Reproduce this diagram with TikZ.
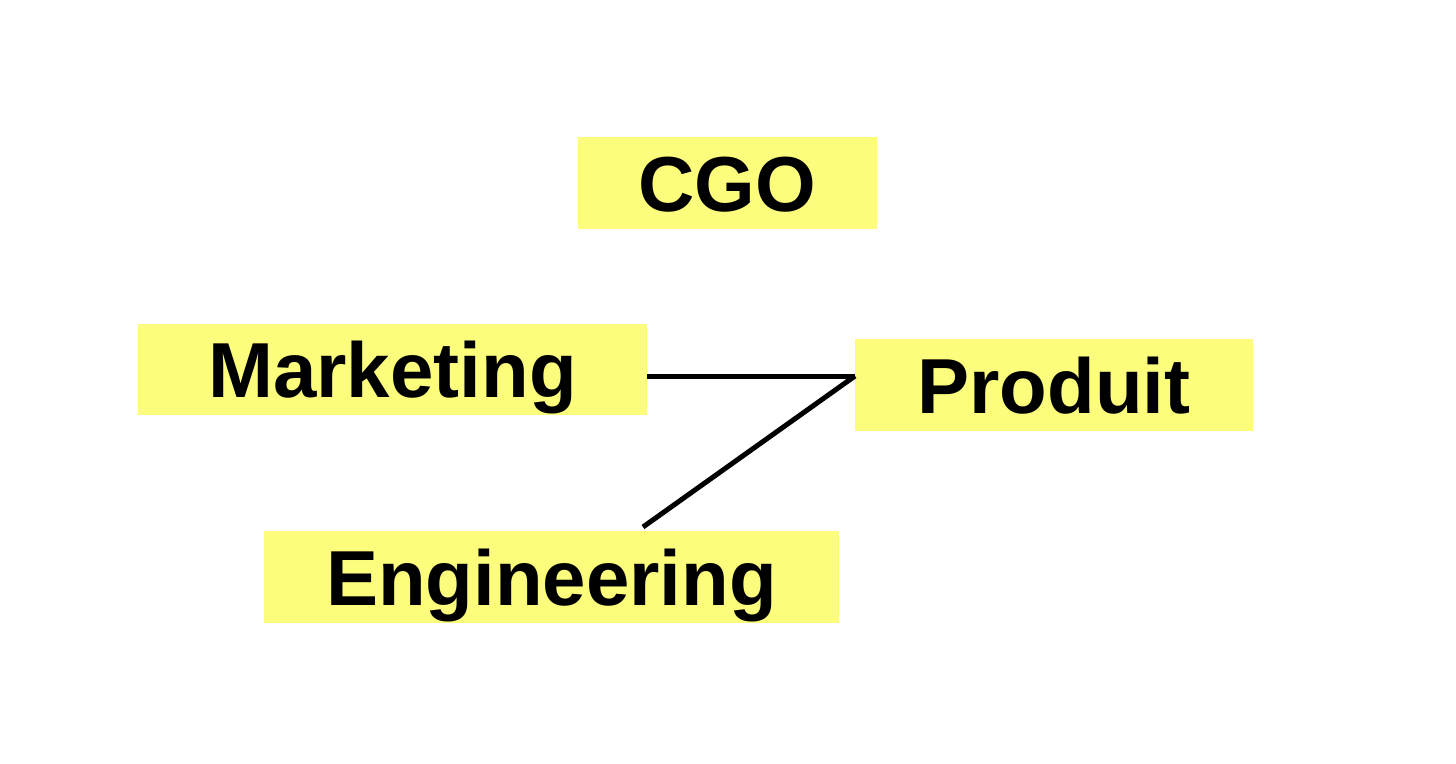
\documentclass[tikz,border=0pt]{standalone}
\usepackage{fontspec}
\setmainfont{Liberation Sans}
\definecolor{boxyellow}{HTML}{FDFD7D}
\begin{document}
\begin{tikzpicture}[x=1pt,y=-1pt,
  labelbox/.style={fill=boxyellow,inner sep=0pt,anchor=center,
    text height=56pt,text depth=0pt,
    font=\fontsize{78}{80}\selectfont\bfseries},
  link/.style={line width=5pt,black}]
\useasboundingbox (0,0) rectangle (1456,763);
\node[labelbox,minimum width=299pt,minimum height=92pt] (cgo) at (727.5,183) {CGO};
\node[labelbox,minimum width=509pt,minimum height=91pt] (mkt) at (392.5,369.5) {Marketing};
\node[labelbox,minimum width=398pt,minimum height=92pt] (prod) at (1054,385) {Produit};
\node[labelbox,minimum width=575pt,minimum height=92pt] (eng) at (551.5,577) {Engineering};
\coordinate (pj) at (855,376);
\coordinate (ej) at (643,527);
\draw[link] (mkt.east |- pj) -- (pj);
\draw[link] (ej) -- (pj);
\end{tikzpicture}
\end{document}
